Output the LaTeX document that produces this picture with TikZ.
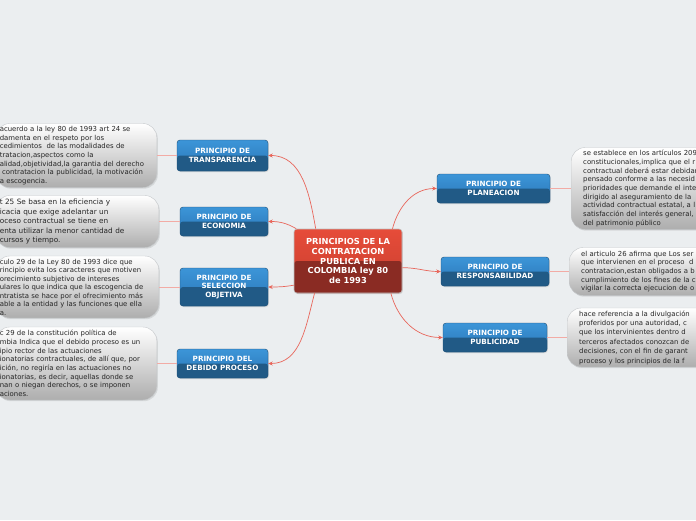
\documentclass[tikz,border=0pt]{standalone}
\usepackage{fontspec}
\setmainfont{DejaVu Sans}
\usepackage{tikz}
\usetikzlibrary{arrows.meta,shadows}
\usepackage{xcolor}
\definecolor{mmBack}{HTML}{EBEEF0}
\definecolor{mmBlueTop}{HTML}{3C95D8}
\definecolor{mmBlueMid}{HTML}{2A76B6}
\definecolor{mmBlueLow}{HTML}{215A86}
\definecolor{mmBlueEdge}{HTML}{1D4D73}
\definecolor{mmRedTop}{HTML}{E64C39}
\definecolor{mmRedMid}{HTML}{C93E2F}
\definecolor{mmRedLow}{HTML}{8A2B23}
\definecolor{mmLink}{HTML}{E8665B}
\definecolor{mmNoteEdge}{HTML}{C6C9CC}
\tikzset{
    topic/.style={
        draw=mmBlueEdge,line width=0.4pt,rounded corners=3pt,
        top color=mmBlueTop,bottom color=mmBlueMid,
        path picture={\fill[mmBlueLow] (path picture bounding box.west)
            rectangle (path picture bounding box.south east);},
        align=center,text=white,font=\bfseries\fontsize{7.2}{8.6}\selectfont,
        drop shadow={opacity=0.25,shadow xshift=0.8pt,shadow yshift=-1pt}
    },
    root/.style={
        draw=black!25,line width=0.6pt,rounded corners=3pt,
        top color=mmRedTop,bottom color=mmRedMid,
        path picture={\fill[mmRedLow] (path picture bounding box.west)
            rectangle (path picture bounding box.south east);},
        align=center,text=white,font=\bfseries\fontsize{8.3}{9.7}\selectfont,
        drop shadow={opacity=0.25,shadow xshift=0.8pt,shadow yshift=-1pt}
    },
    note/.style={
        draw=mmNoteEdge,line width=0.4pt,rounded corners=14pt,
        top color=white,bottom color=black!32,
        align=left,text=black!85,inner xsep=4pt,inner ysep=2pt,
        font=\fontsize{6.9}{8.7}\selectfont,
        drop shadow={opacity=0.2,shadow xshift=1pt,shadow yshift=-1.2pt}
    },
    link/.style={
        draw=mmLink,line width=0.7pt,-{Stealth[length=4.5pt,width=4pt]}
    },
    stem/.style={draw=mmLink!55,line width=0.6pt}
}
\begin{document}
\begin{tikzpicture}[x=1pt,y=-1pt]
\useasboundingbox (0,0) rectangle (696,520);
\fill[mmBack] (0,0) rectangle (696,520);
\clip (0,0) rectangle (696,520);

\node[root,minimum width=108pt,minimum height=64pt](main) at (348,261)
{PRINCIPIOS DE LA\\CONTRATACION\\PUBLICA EN\\COLOMBIA ley 80\\de 1993};

% principios a la izquierda
\node[topic,minimum width=91pt,minimum height=31pt](tra) at (222.5,155.5)
{PRINCIPIO DE\\TRANSPARENCIA};
\node[topic,minimum width=88pt,minimum height=29pt](eco) at (224,221.5)
{PRINCIPIO DE\\ECONOMIA};
\node[topic,minimum width=88pt,minimum height=38pt](sel) at (224,287)
{PRINCIPIO DE\\SELECCION\\OBJETIVA};
\node[topic,minimum width=91pt,minimum height=29pt](deb) at (222.5,363.5)
{PRINCIPIO DEL\\DEBIDO PROCESO};

% principios a la derecha
\node[topic,minimum width=113pt,minimum height=29pt](pla) at (493.5,188.5)
{PRINCIPIO DE\\PLANEACION};
\node[topic,minimum width=108pt,minimum height=29pt](res) at (495,271.5)
{PRINCIPIO DE\\RESPONSABILIDAD};
\node[topic,minimum width=104pt,minimum height=29pt](pub) at (495,337.5)
{PRINCIPIO DE\\PUBLICIDAD};

% notas
\node[note,anchor=east,text width=153pt,minimum height=64pt](traN) at (157,155.5)
{acuerdo a la ley 80 de 1993 art 24 se\\
damenta en el respeto por los\\
cedimientos\ \ de las modalidades de\\
tratacion,aspectos como la\\
alidad,objetividad,la garantia del derecho\\
\ contratacion la publicidad, la motivación\\
a escogencia.};
\node[note,anchor=east,text width=155pt,minimum height=52pt,
font=\fontsize{7.3}{9.5}\selectfont](ecoN) at (159,221.5)
{t 25 Se basa en la eficiencia y\\
icacia que exige adelantar un\\
oceso contractual se tiene en\\
enta utilizar la menor cantidad de\\
cursos y tiempo.};
\node[note,anchor=east,text width=155pt,minimum height=62pt,
font=\fontsize{6.9}{8.5}\selectfont](selN) at (159,287)
{culo 29 de la Ley 80 de 1993 dice que\\
rincipio evita los caracteres que motiven\\
orecimiento subjetivo de intereses\\
ulares lo que indica que la escogencia de\\
ntratista se hace por el ofrecimiento más\\
able a la entidad y las funciones que ella\\
a.};
\node[note,anchor=east,text width=153pt,minimum height=73pt](debN) at (157,363.5)
{c 29 de la constitución política de\\
mbia Indica que el debido proceso es un\\
ipio rector de las actuaciones\\
ionatorias contractuales, de allí que, por\\
ición, no regiría en las actuaciones no\\
ionatorias, es decir, aquellas donde se\\
nan o niegan derechos, o se imponen\\
aciones.};

\node[note,anchor=west,text width=150pt,inner xsep=12pt,minimum height=82pt](plaN) at (571,188.5)
{se establece en los artículos 209\\
constitucionales,implica que el r\\
contractual deberá estar debidam\\
pensado conforme a las necesid\\
prioridades que demande el inte\\
dirigido al aseguramiento de la\\
actividad contractual estatal, a l\\
satisfacción del interés general,\\
del patrimonio público};
\node[note,anchor=west,text width=150pt,inner xsep=12pt,minimum height=48pt](resN) at (569,271.5)
{el articulo 26 afirma que Los ser\\
que intervienen en el proceso\ \ d\\
contratacion,estan obligados a b\\
cumplimiento de los fines de la c\\
vigilar la correcta ejecucion de o};
\node[note,anchor=west,text width=150pt,inner xsep=12pt,minimum height=59pt,
font=\fontsize{6.9}{9.4}\selectfont](pubN) at (567,337.5)
{hace referencia a la divulgación\\
proferidos por una autoridad, c\\
que los intervinientes dentro d\\
terceros afectados conozcan de\\
decisiones, con el fin de garant\\
proceso y los principios de la f};

% conectores
\draw[link] (main.135) to[out=100,in=0] (tra.east);
\draw[link] (main.148) to[out=150,in=0] (eco.east);
\draw[link] (main.204) to[out=190,in=0] (sel.east);
\draw[link] (main.224) to[out=255,in=0] (deb.east);
\draw[link] (main.36) to[out=75,in=180] (pla.west);
\draw[link] (main.353) to[out=0,in=180] (res.west);
\draw[link] (main.323) to[out=-75,in=180] (pub.west);

\draw[stem] (tra.west) -- (traN.east);
\draw[stem] (eco.west) -- (ecoN.east);
\draw[stem] (sel.west) -- (selN.east);
\draw[stem] (deb.west) -- (debN.east);
\draw[stem] (pla.east) -- (plaN.west);
\draw[stem] (res.east) -- (resN.west);
\draw[stem] (pub.east) -- (pubN.west);

\end{tikzpicture}
\end{document}
